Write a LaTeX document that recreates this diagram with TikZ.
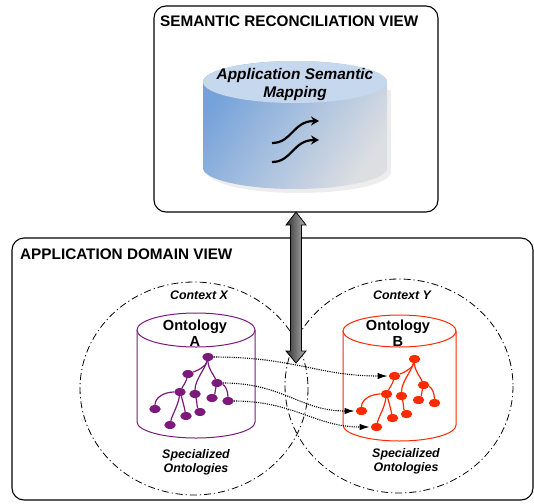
\documentclass[tikz,border=0pt]{standalone}
\usepackage{fontspec}
\setmainfont{Liberation Sans}
\usetikzlibrary{arrows.meta,shapes.geometric}
\definecolor{ontA}{HTML}{7B1A7B}
\definecolor{ontB}{HTML}{FF2A00}
\definecolor{topL}{HTML}{74A2DA}
\definecolor{topM}{HTML}{A9C1DF}
\definecolor{topR}{HTML}{DCDEE2}
\definecolor{topE}{HTML}{C6D8EE}
\tikzset{
  box/.style={draw=black, line width=1.1pt, rounded corners=12pt, inner sep=0pt},
  viewtitle/.style={font=\bfseries\fontsize{15.3}{17}\selectfont, anchor=west, inner sep=0pt},
  maplbl/.style={font=\bfseries\itshape\fontsize{15.4}{18}\selectfont, align=center, inner sep=0pt},
  ontlbl/.style={font=\bfseries\fontsize{14.6}{15.7}\selectfont, align=center, inner sep=0pt},
  ctxlbl/.style={font=\bfseries\itshape\fontsize{12.4}{14}\selectfont, align=center, inner sep=0pt},
  ctxcircle/.style={draw=black, line width=0.8pt, dash pattern=on 7pt off 3pt on 1.2pt off 3pt},
  conn/.style={draw=black, line width=1.1pt, dash pattern=on 1.1pt off 1.1pt, -{Latex[length=10pt,width=6.5pt]}, shorten >=1pt},
  squig/.style={draw=black, line width=2.2pt, -{Stealth[length=8pt,width=9pt]}},
  leaf/.style={ellipse, minimum width=11.5pt, minimum height=8pt, inner sep=0pt},
  pics/ontree/.style={code={
    \node[leaf,fill=#1] (-r) at (0,0) {};
    \node[leaf,fill=#1] (-a) at (-20,17) {};
    \node[leaf,fill=#1] (-b) at (9,26) {};
    \node[leaf,fill=#1] (-c) at (-28,35) {};
    \node[leaf,fill=#1] (-d) at (-13,37) {};
    \node[leaf,fill=#1] (-e) at (4,41) {};
    \node[leaf,fill=#1] (-f) at (20,44) {};
    \node[leaf,fill=#1] (-g) at (-53,52) {};
    \node[leaf,fill=#1] (-h) at (-22,59) {};
    \node[leaf,fill=#1] (-i) at (-8,55) {};
    \node[leaf,fill=#1] (-j) at (-38,68) {};
    \begin{scope}[draw=#1, line width=1.2pt]
      \draw (-r) .. controls +(-2,10) and +(8,-3) .. (-a);
      \draw (-r) .. controls +(-3,12) and +(0,-14) .. (-d);
      \draw (-r) .. controls +(0,12) and +(-3,-8) .. (-b);
      \draw (-a) .. controls +(-2,8) and +(3,-6) .. (-c);
      \draw (-c) .. controls +(-15,0) and +(0,-12) .. (-g);
      \draw (-c) .. controls +(-2,14) and +(2,-10) .. (-j);
      \draw (-c) .. controls +(3,10) and +(-2,-10) .. (-h);
      \draw (-d) .. controls +(2,8) and +(-3,-5) .. (-i);
      \draw (-b) .. controls +(-2,8) and +(3,-4) .. (-e);
      \draw (-b) .. controls +(8,2) and +(0,-10) .. (-f);
    \end{scope}
  }}
}
\begin{document}
\begin{tikzpicture}[x=1pt,y=-1pt]
\useasboundingbox (0,0) rectangle (534,503);

% ---------- top view ----------
\node[box, minimum width=284pt, minimum height=206pt] (semview) at (296,109) {};
\node[viewtitle] (semtitle) at (160,21) {SEMANTIC RECONCILIATION VIEW};

% top cylinder (shadow, body, top)
\fill[black, opacity=0.07] (207,90) -- (207,172) arc[start angle=180,end angle=0,x radius=92,y radius=21] -- (391,90) -- cycle;
\shade[top color=topL, bottom color=topR, middle color=topM, shading angle=55] (203,82) -- (203,168) arc[start angle=180,end angle=0,x radius=92,y radius=21] -- (387,82) arc[start angle=0,end angle=-180,x radius=92,y radius=21] -- cycle;
\fill[topE] (295,82) ellipse[x radius=92, y radius=21];
\node[maplbl] (asm) at (295,85) {Application Semantic\\Mapping};

\coordinate (s1) at (272,143);
\coordinate (t1) at (319,121);
\coordinate (s2) at (272,162);
\coordinate (t2) at (319,140);
\draw[squig] (s1) .. controls (292,143) and (293,121) .. (t1);
\draw[squig] (s2) .. controls (292,162) and (293,140) .. (t2);

% ---------- bottom view ----------
\node[box, minimum width=521pt, minimum height=262pt] (appview) at (272.5,369) {};
\node[viewtitle] (apptitle) at (20,254) {APPLICATION DOMAIN VIEW};

\draw[ctxcircle] (194,388.5) ellipse[x radius=114, y radius=106.5];
\draw[ctxcircle] (399,386) ellipse[x radius=114, y radius=107];
\node[ctxlbl] (ctxX) at (199,295) {Context X};
\node[ctxlbl] (ctxY) at (402,295) {Context Y};

% ontology A cylinder
\draw[ontA, line width=1pt, fill=white] (137,330) -- (137,422) arc[start angle=180,end angle=0,x radius=59,y radius=16] -- (255,330);
\draw[ontA, line width=1pt, fill=white] (196,330) ellipse[x radius=59, y radius=17];
\node[ontlbl] (ontAlbl) at (195,333) {Ontology\\A};

% ontology B cylinder
\draw[ontB, line width=1pt, fill=white] (343,331) -- (343,425) arc[start angle=180,end angle=0,x radius=56.5,y radius=16] -- (456,331);
\draw[ontB, line width=1pt, fill=white] (399.5,331) ellipse[x radius=56.5, y radius=16];
\node[ontlbl] (ontBlbl) at (398,333) {Ontology\\B};

\pic (A) at (208,357) {ontree=ontA};
\pic (B) at (414.5,359) {ontree=ontB};

\node[ctxlbl] (specA) at (196,462.5) {Specialized\\Ontologies};
\node[ctxlbl] (specB) at (406,461) {Specialized\\Ontologies};

% mapping connectors
\draw[conn] (A-r.east) .. controls +(80,0) and +(-70,0) .. (B-a.west);
\draw[conn] (A-b.east) .. controls +(60,0) and +(-55,0) .. (B-g.west);
\draw[conn] (A-f.east) .. controls +(60,0) and +(-55,0) .. (B-j.west);

% big double arrow
\coordinate (arrTop) at (296,212);
\coordinate (arrBot) at (296,363);
\shadedraw[left color=black!80, right color=black!30, draw=black, line width=0.8pt]
  (arrTop) -- (306,225) -- (301.5,225) -- (301.5,351) -- (306,351) -- (arrBot)
  -- (286,351) -- (290.5,351) -- (290.5,225) -- (286,225) -- cycle;
\end{tikzpicture}
\end{document}
